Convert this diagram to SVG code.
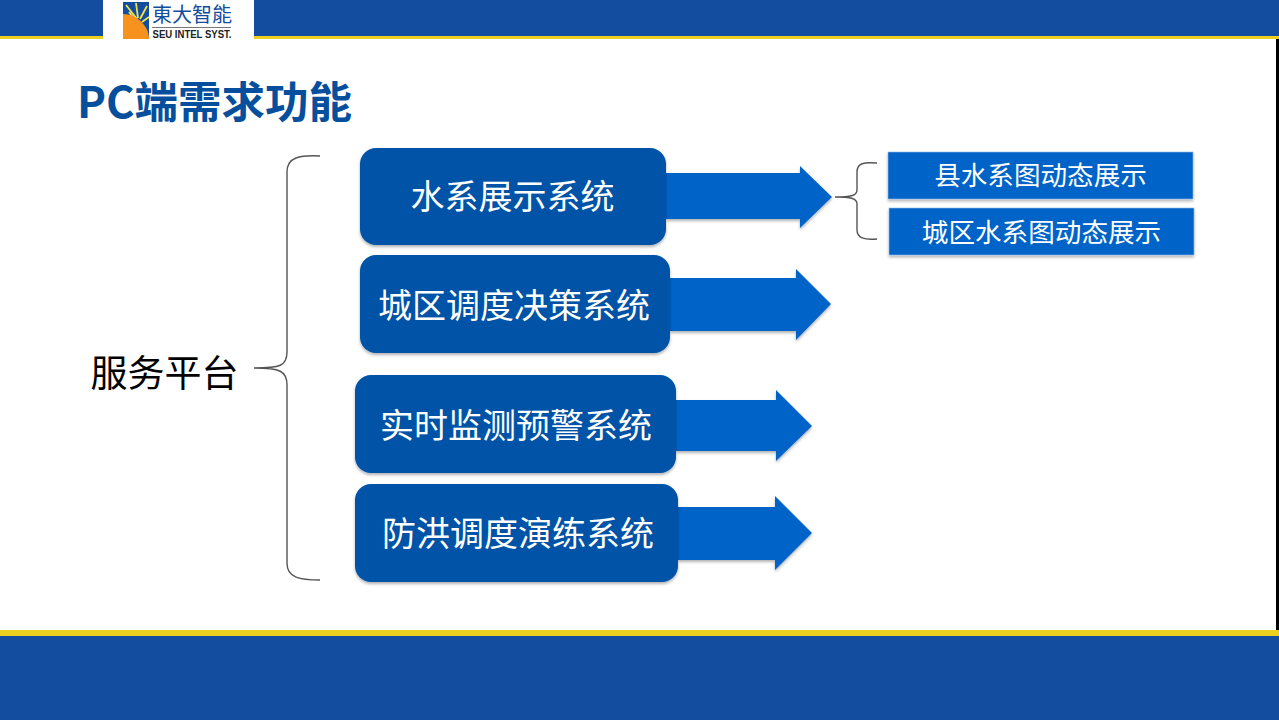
<svg xmlns="http://www.w3.org/2000/svg" width="1279" height="720" viewBox="0 0 1279 720">
<style>
.cjk{font-family:"Noto Sans CJK SC","Noto Sans",sans-serif}
.sys{fill:#0553a6;filter:url(#sh)}
.arr{fill:#0563c8;filter:url(#sh)}
.sub{fill:#0563c8;stroke:#8fbce8;stroke-width:.6;filter:url(#sh)}
.t1{font-size:34px;fill:#fff;text-anchor:middle}
.t2{font-size:26.6px;fill:#fff;text-anchor:middle}
.br{fill:none;stroke:#555;stroke-width:1.4}
</style>
<defs>
<filter id="sh" x="-5%" y="-10%" width="110%" height="125%"><feDropShadow dx="0" dy="2" stdDeviation="1.5" flood-color="#000" flood-opacity=".3"/></filter>
</defs>
<rect width="1279" height="720" fill="#fff"/>
<g id="header">
<rect width="1279" height="37" fill="#124da0"/>
<rect y="36" width="1279" height="3" fill="#ecd020"/>
<rect x="103" width="151" height="41" fill="#fff"/>
</g>
<g id="logo">
<rect x="123" y="2" width="26" height="37" fill="#124da0"/>
<path d="M126 5L137 19M136 3L138 18M147 6L140 19M149 17L142 22M129 12L136 21" stroke="#f4e24a" stroke-width="1.8" fill="none"/>
<path d="M123 14C137 14 149 26 149 39H123Z" fill="#f7921e"/>
<text x="192" y="22" font-size="20" fill="#124da0" text-anchor="middle" font-family="'Noto Sans CJK TC','Noto Sans CJK SC',sans-serif">東大智能</text>
<rect x="152" y="27" width="79" height="1" fill="#777"/>
<text x="192" y="38" font-size="10" font-weight="700" fill="#222" text-anchor="middle" textLength="79" lengthAdjust="spacingAndGlyphs" font-family="'Liberation Sans',sans-serif">SEU INTEL SYST.</text>
</g>
<rect x="1276" y="39" width="3" height="591" fill="#000"/>
<g id="footer">
<rect y="630" width="1279" height="6" fill="#ecd020"/>
<rect y="636" width="1279" height="84" fill="#124da0"/>
</g>
<text id="title" x="77" y="118" class="cjk" font-size="43.5" font-weight="700" fill="#064f9c">PC端需求功能</text>
<g id="connectors">
<path class="br" d="M320 156C300 155 287 157 287 172V352C287 366 280 368 254 368C280 368 287 371 287 385V563C287 578 300 580 320 580"/>
<path class="br" d="M877 163C864 162 857 163 857 172V190C857 196 850 197 835 197C850 197 857 198 857 204V230C857 238 864 240 877 239"/>
<path class="arr" d="M666 173H800V166L832 197L800 228V219H666Z"/>
<path class="arr" d="M670 278H796V269L831 304L796 340V331H670Z"/>
<path class="arr" d="M676 400H776V390L812 426L776 461V451H676Z"/>
<path class="arr" d="M678 507H775V496L812 533L775 570V560H678Z"/>
</g>
<g id="platform"><text x="164.500" y="387" class="cjk" font-size="37" fill="#000" text-anchor="middle">服务平台</text></g>
<g id="sys1"><rect class="sys" x="360" y="148" width="306" height="97" rx="16"/><text class="cjk t1" x="512.500" y="209">水系展示系统</text></g>
<g id="sys2"><rect class="sys" x="360" y="255" width="310" height="98" rx="16"/><text class="cjk t1" x="514" y="318">城区调度决策系统</text></g>
<g id="sys3"><rect class="sys" x="355" y="375" width="321" height="98" rx="16"/><text class="cjk t1" x="516" y="438">实时监测预警系统</text></g>
<g id="sys4"><rect class="sys" x="355" y="484" width="323" height="98" rx="16"/><text class="cjk t1" x="518" y="546">防洪调度演练系统</text></g>
<g id="sub1"><rect class="sub" x="888" y="152" width="305" height="47"/><text class="cjk t2" x="1040.500" y="185">县水系图动态展示</text></g>
<g id="sub2"><rect class="sub" x="889" y="208" width="305" height="47"/><text class="cjk t2" x="1041.500" y="242">城区水系图动态展示</text></g>
</svg>
